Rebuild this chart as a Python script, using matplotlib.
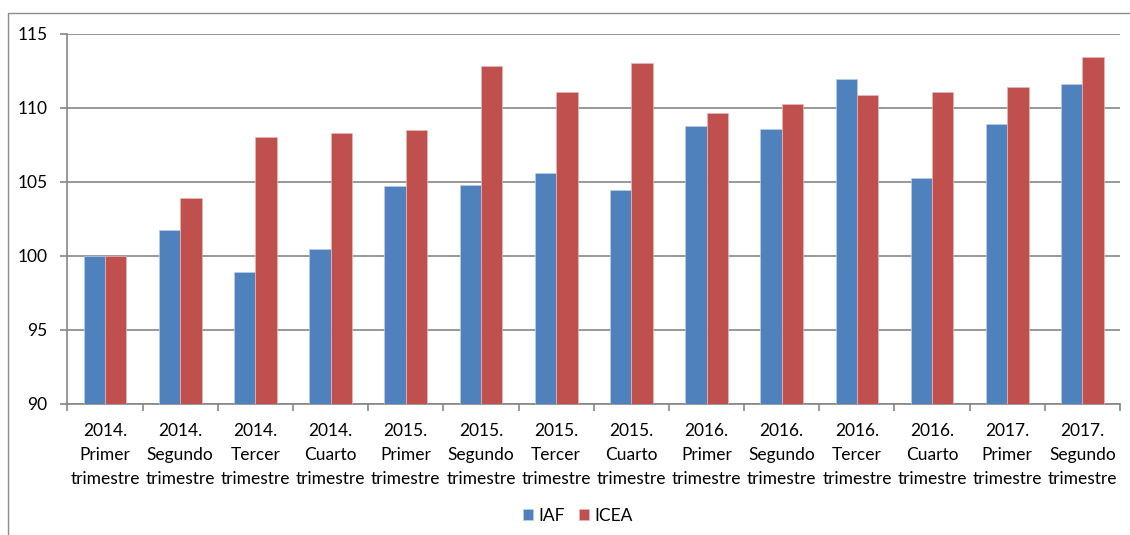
import matplotlib

matplotlib.use("Agg")

import matplotlib.pyplot as plt
import numpy as np
from matplotlib.patches import Rectangle

plt.rcParams["font.family"] = ["Lato", "DejaVu Sans"]

# data
categories = [
    "2014.\nPrimer\ntrimestre", "2014.\nSegundo\ntrimestre", "2014.\nTercer\ntrimestre",
    "2014.\nCuarto\ntrimestre", "2015.\nPrimer\ntrimestre", "2015.\nSegundo\ntrimestre",
    "2015.\nTercer\ntrimestre", "2015.\nCuarto\ntrimestre", "2016.\nPrimer\ntrimestre",
    "2016.\nSegundo\ntrimestre", "2016.\nTercer\ntrimestre", "2016.\nCuarto\ntrimestre",
    "2017.\nPrimer\ntrimestre", "2017.\nSegundo\ntrimestre",
]
iaf = [100.0, 101.73, 98.91, 100.44, 104.72, 104.79, 105.58, 104.47,
       108.75, 108.59, 111.92, 105.28, 108.88, 111.61]
icea = [100.0, 103.89, 108.05, 108.27, 108.48, 112.82, 111.07, 113.05,
        109.63, 110.28, 110.84, 111.07, 111.40, 113.41]
y_ticks = [90, 95, 100, 105, 110, 115]

fig = plt.figure(figsize=(11.3, 5.35), dpi=100)
ax = fig.add_axes([0.0597, 0.2449, 0.9315, 0.6921])

# outer chart border (cut off at right and bottom like the source)
fig.add_artist(Rectangle((8.3 / 1130, -0.05), 1.2, 1 - 12.7 / 535 + 0.05,
                         transform=fig.transFigure, fill=False,
                         edgecolor="#8c8c8c", linewidth=1.0))

x = np.arange(len(categories))
w = 0.284
ax.bar(x - w / 2, np.array(iaf) - 90, w, bottom=90, color="#4F81BD",
       edgecolor="#b9cde5", linewidth=0.5, label="IAF", zorder=3)
ax.bar(x + w / 2, np.array(icea) - 90, w, bottom=90, color="#C0504D",
       edgecolor="#e6b9b8", linewidth=0.5, label="ICEA", zorder=3)

fs = 12.5
ax.set_xlim(-0.5, len(categories) - 0.5)
ax.set_ylim(90, 115)
ax.set_yticks(y_ticks)
ax.set_yticklabels([str(t) for t in y_ticks], fontsize=fs)
ax.yaxis.grid(True, color="#868686", linewidth=1.2, zorder=0)

ax.set_xticks(np.arange(len(categories) + 1) - 0.5, minor=False)
ax.set_xticklabels([])
ax.set_xticks(x, minor=True)
ax.set_xticklabels(categories, minor=True, fontsize=fs, linespacing=1.6)
ax.tick_params(axis="x", which="minor", length=0, pad=14)
ax.tick_params(axis="x", which="major", length=5, color="#868686", width=1.2)
ax.tick_params(axis="y", length=5, color="#868686", width=1.2, pad=9.5)

for side in ("top", "right"):
    ax.spines[side].set_visible(False)
for side in ("left", "bottom"):
    ax.spines[side].set_color("#868686")
    ax.spines[side].set_linewidth(1.2)

fig.legend(loc="center", bbox_to_anchor=(578 / 1130, 1 - 516 / 535), ncol=2,
           frameon=False, fontsize=fs, handlelength=0.58, handleheight=0.58,
           handletextpad=0.3, columnspacing=0.8)

fig.savefig("out.png", dpi=100)
plt.close(fig)
